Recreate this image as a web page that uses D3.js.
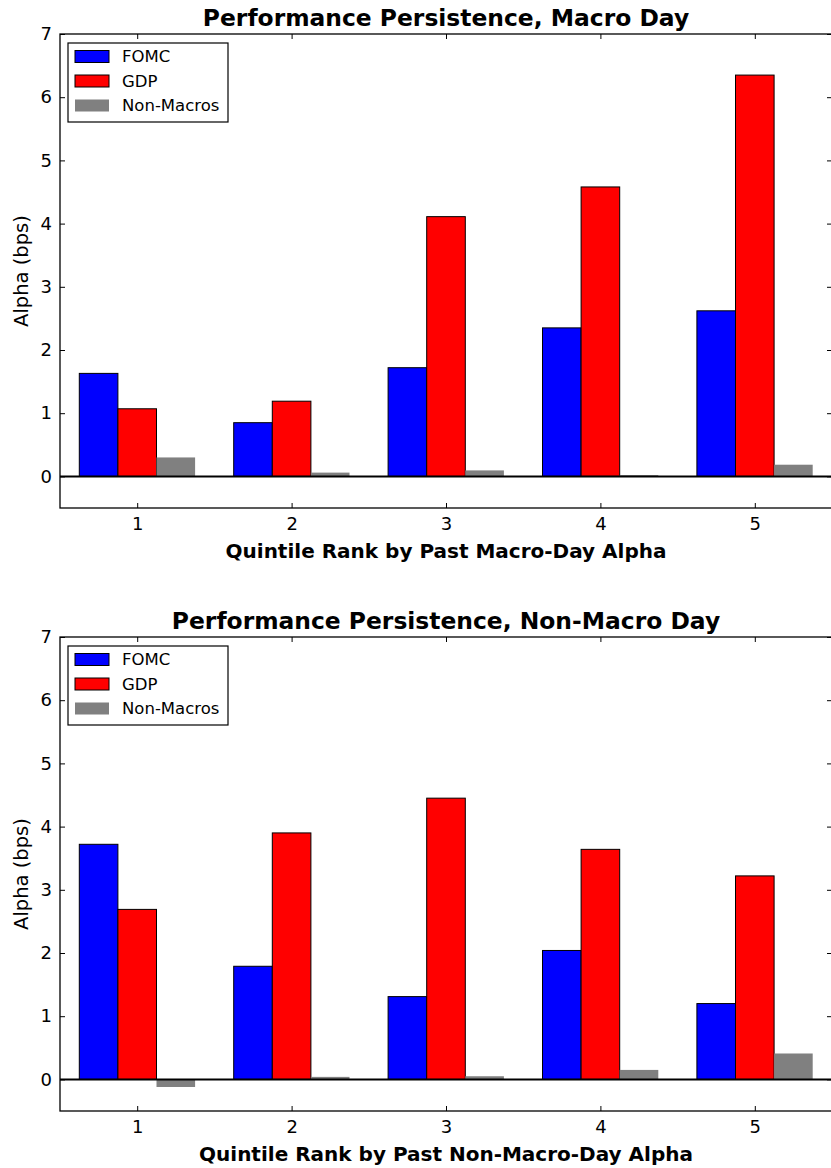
<!DOCTYPE html>
<html>
<head>
<meta charset="utf-8">
<script src="https://cdn.jsdelivr.net/npm/d3@7"></script>
<style>
  body { margin: 0; background: #fff; }
  text { font-family: "DejaVu Sans", sans-serif; }
</style>
</head>
<body>
<svg id="chart" width="831" height="1168"></svg>
<script>
// quintile ranks shown on the x axis
var quintiles = [1, 2, 3, 4, 5];
var seriesNames = ["FOMC", "GDP", "Non-Macros"];
var seriesColors = ["#0000ff", "#ff0000", "#808080"];
var yTicks = [0, 1, 2, 3, 4, 5, 6, 7];

// panel 1: macro day
var macroFOMC = [1.63, 0.85, 1.72, 2.35, 2.62];
var macroGDP = [1.07, 1.19, 4.11, 4.58, 6.35];
var macroNonMacro = [0.30, 0.06, 0.095, 0.02, 0.185];

// panel 2: non-macro day
var nonMacroFOMC = [3.72, 1.79, 1.31, 2.04, 1.20];
var nonMacroGDP = [2.69, 3.90, 4.45, 3.64, 3.22];
var nonMacroNonMacro = [-0.12, 0.04, 0.05, 0.15, 0.41];

var svg = d3.select("#chart");

function drawPanel(top, title, xlabel, series) {
    var left = 60, right = 832, bottom = top + 474;

    var g = svg.append("g");

    var x = d3.scaleLinear().domain([0.5, 5.5]).range([left, right]);
    var y = d3.scaleLinear().domain([-0.5, 7]).range([bottom, top]);
    var barW = x(0.25) - x(0);

    // bars
    series.forEach(function(vals, si) {
        var offset = (si - 1.5) * 0.25;
        g.selectAll(null)
            .data(vals)
            .enter()
            .append("rect")
            .attr("x", function(d, i) { return x(quintiles[i] + offset); })
            .attr("y", function(d) { return y(Math.max(d, 0)); })
            .attr("width", barW)
            .attr("height", function(d) { return Math.abs(y(d) - y(0)); })
            .attr("fill", seriesColors[si])
            .attr("stroke", si < 2 ? "#000" : "none")
            .attr("stroke-width", 1);
    });

    // zero line
    g.append("line")
        .attr("x1", left).attr("x2", right)
        .attr("y1", y(0)).attr("y2", y(0))
        .attr("stroke", "#000").attr("stroke-width", 2);

    // axes, ticks pointing inward
    var axB = g.append("g").attr("transform", "translate(0," + bottom + ")")
        .call(d3.axisBottom(x).tickValues(quintiles).tickFormat(d3.format("d")).tickSize(-5).tickPadding(9));
    var axT = g.append("g").attr("transform", "translate(0," + top + ")")
        .call(d3.axisTop(x).tickValues(quintiles).tickSize(-5).tickFormat(""));
    var axL = g.append("g").attr("transform", "translate(" + left + ",0)")
        .call(d3.axisLeft(y).tickValues(yTicks).tickSize(-5).tickPadding(8));
    var axR = g.append("g").attr("transform", "translate(" + right + ",0)")
        .call(d3.axisRight(y).tickValues(yTicks).tickSize(-5).tickFormat(""));
    [axB, axT, axL, axR].forEach(function(a) {
        a.select(".domain").remove();
        a.selectAll("text").style("font-size", "18px").attr("fill", "#000");
        a.selectAll("line").attr("stroke", "#000");
    });

    // frame
    g.append("rect")
        .attr("x", left).attr("y", top)
        .attr("width", right - left).attr("height", bottom - top)
        .attr("fill", "none").attr("stroke", "#000").attr("stroke-width", 1.3);

    // labels
    g.append("text")
        .attr("x", (left + right) / 2).attr("y", top - 8)
        .attr("text-anchor", "middle")
        .style("font-size", "23.4px").style("font-weight", "bold")
        .text(title);
    g.append("text")
        .attr("x", (left + right) / 2).attr("y", bottom + 50)
        .attr("text-anchor", "middle")
        .style("font-size", "20px").style("font-weight", "bold")
        .text(xlabel);
    g.append("text")
        .attr("transform", "translate(28," + ((top + bottom) / 2) + ") rotate(-90)")
        .attr("text-anchor", "middle")
        .style("font-size", "19.5px")
        .text("Alpha (bps)");

    // legend
    var lg = g.append("g").attr("transform", "translate(68," + (top + 9) + ")");
    lg.append("rect")
        .attr("width", 160).attr("height", 79)
        .attr("fill", "#fff").attr("stroke", "#000").attr("stroke-width", 1.2);
    seriesNames.forEach(function(name, i) {
        var cy = 13.5 + i * 24.5;
        lg.append("rect")
            .attr("x", 7).attr("y", cy - 6)
            .attr("width", 34).attr("height", 12)
            .attr("fill", seriesColors[i])
            .attr("stroke", i < 2 ? "#000" : "none");
        lg.append("text")
            .attr("x", 54).attr("y", cy + 5.5)
            .style("font-size", "16.5px")
            .text(name);
    });
}

drawPanel(34, "Performance Persistence, Macro Day",
    "Quintile Rank by Past Macro-Day Alpha",
    [macroFOMC, macroGDP, macroNonMacro]);
drawPanel(637, "Performance Persistence, Non-Macro Day",
    "Quintile Rank by Past Non-Macro-Day Alpha",
    [nonMacroFOMC, nonMacroGDP, nonMacroNonMacro]);
</script>
</body>
</html>
